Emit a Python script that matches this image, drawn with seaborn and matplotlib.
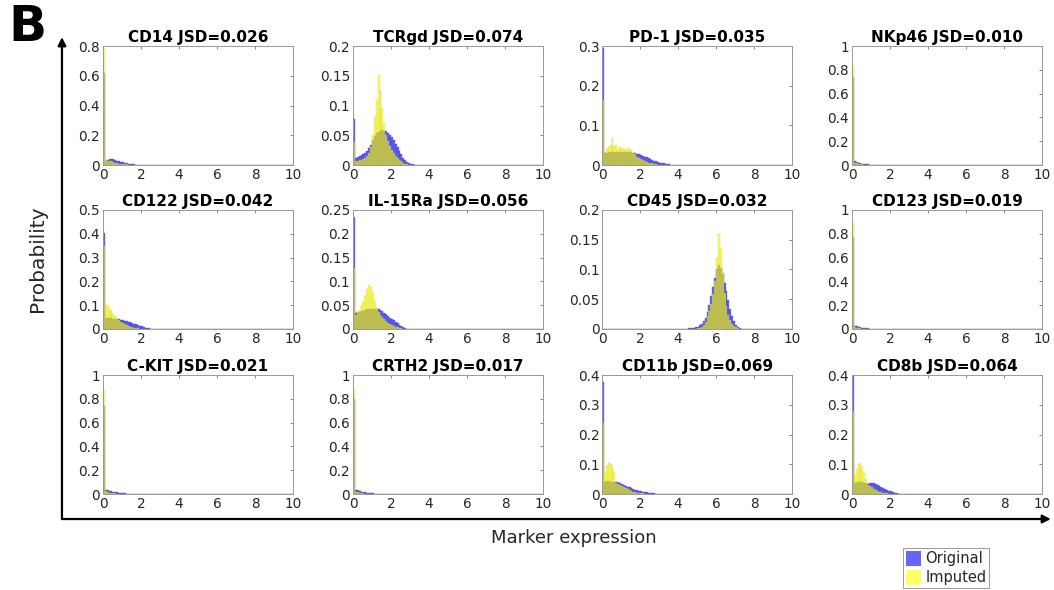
import numpy as np
import pandas as pd
import matplotlib
matplotlib.use("Agg")
import matplotlib.pyplot as plt
from matplotlib.patches import Patch
from matplotlib.ticker import FuncFormatter
import seaborn as sns

sns.set_theme(style="white")
plt.rcParams['font.family'] = ['DejaVu Sans']

# ---------------- data ----------------
markers = ["CD14", "TCRgd", "PD-1", "NKp46",
           "CD122", "IL-15Ra", "CD45", "CD123",
           "C-KIT", "CRTH2", "CD11b", "CD8b"]
jsd = ["0.026", "0.074", "0.035", "0.010",
       "0.042", "0.056", "0.032", "0.019",
       "0.021", "0.017", "0.069", "0.064"]
y_max = [0.8, 0.2, 0.3, 1.0,
         0.5, 0.25, 0.2, 1.0,
         1.0, 1.0, 0.4, 0.4]
y_step = [0.2, 0.05, 0.1, 0.2,
          0.1, 0.05, 0.05, 0.2,
          0.2, 0.2, 0.1, 0.1]
x_ticks = [0, 2, 4, 6, 8, 10]

# probability per bin (bin width 0.1, starting at 0)
cd14_orig = [0.62, 0.030, 0.035, 0.040, 0.042, 0.040, 0.035, 0.030, 0.026, 0.022, 0.018,
             0.015, 0.012, 0.009, 0.007, 0.005, 0.004, 0.003, 0.002, 0.001]
cd14_imp = [0.78, 0.035, 0.030, 0.028, 0.025, 0.020, 0.016, 0.012, 0.010, 0.008, 0.006,
            0.005, 0.004, 0.003, 0.002, 0.001]

tcrgd_orig = [0.077, 0.012, 0.014, 0.016, 0.017, 0.019, 0.021, 0.024, 0.028, 0.034, 0.042,
              0.048, 0.053, 0.056, 0.058, 0.059, 0.058, 0.057, 0.054, 0.051, 0.047, 0.042,
              0.036, 0.030, 0.024, 0.018, 0.012, 0.008, 0.005, 0.003, 0.002, 0.001]
tcrgd_imp = [0.038, 0.006, 0.007, 0.008, 0.009, 0.010, 0.012, 0.015, 0.020, 0.030, 0.050,
             0.080, 0.110, 0.152, 0.125, 0.095, 0.070, 0.050, 0.040, 0.032, 0.026, 0.021,
             0.016, 0.012, 0.009, 0.006, 0.004, 0.002, 0.001]

pd1_orig = [0.295, 0.030, 0.031, 0.032, 0.033, 0.033, 0.034, 0.034, 0.034, 0.034, 0.034,
            0.034, 0.034, 0.033, 0.033, 0.032, 0.031, 0.030, 0.028, 0.027, 0.025, 0.023,
            0.021, 0.019, 0.017, 0.015, 0.013, 0.011, 0.009, 0.008, 0.006, 0.005, 0.004,
            0.003, 0.002, 0.0015, 0.001, 0.0005]
pd1_imp = [0.165, 0.030, 0.040, 0.045, 0.050, 0.068, 0.045, 0.050, 0.040, 0.045, 0.040,
           0.042, 0.038, 0.042, 0.040, 0.035, 0.032, 0.028, 0.020, 0.017, 0.014, 0.012,
           0.010, 0.008, 0.006, 0.005, 0.004, 0.003, 0.002, 0.001]

nkp46_orig = [0.74, 0.030, 0.025, 0.020, 0.016, 0.012, 0.009, 0.007, 0.005, 0.004, 0.003,
              0.002, 0.002, 0.001, 0.001]
nkp46_imp = [0.83, 0.020, 0.014, 0.010, 0.007, 0.005, 0.004, 0.003, 0.002, 0.001]

cd122_orig = [0.405, 0.045, 0.046, 0.046, 0.045, 0.043, 0.042, 0.041, 0.040, 0.039, 0.037,
              0.035, 0.033, 0.031, 0.028, 0.026, 0.023, 0.020, 0.017, 0.014, 0.011, 0.008,
              0.006, 0.004, 0.003, 0.002, 0.001]
cd122_imp = [0.350, 0.100, 0.098, 0.085, 0.075, 0.065, 0.055, 0.045, 0.038, 0.030, 0.025,
             0.020, 0.016, 0.012, 0.009, 0.007, 0.005, 0.004, 0.003, 0.002, 0.001]

il15ra_orig = [0.235, 0.033, 0.035, 0.036, 0.037, 0.038, 0.040, 0.041, 0.042, 0.043, 0.043,
               0.043, 0.042, 0.041, 0.039, 0.037, 0.034, 0.031, 0.027, 0.024, 0.021, 0.018,
               0.015, 0.012, 0.009, 0.006, 0.004, 0.002, 0.001]
il15ra_imp = [0.128, 0.030, 0.035, 0.040, 0.048, 0.056, 0.070, 0.085, 0.092, 0.088, 0.075,
              0.058, 0.045, 0.035, 0.030, 0.025, 0.020, 0.016, 0.013, 0.010, 0.008, 0.006,
              0.005, 0.004, 0.003, 0.002, 0.001]

cd45_orig = [0.0] * 45 + [0.001, 0.001, 0.002, 0.002, 0.003, 0.004, 0.006, 0.009, 0.013,
                          0.019, 0.028, 0.040, 0.055, 0.070, 0.085, 0.100, 0.107, 0.103,
                          0.092, 0.078, 0.063, 0.048, 0.034, 0.022, 0.013, 0.007, 0.003,
                          0.001]
cd45_imp = [0.0] * 50 + [0.001, 0.002, 0.004, 0.007, 0.012, 0.020, 0.030, 0.042, 0.058,
                         0.080, 0.120, 0.160, 0.135, 0.095, 0.060, 0.038, 0.024, 0.015,
                         0.009, 0.005, 0.003, 0.001]

cd123_orig = [0.77, 0.025, 0.022, 0.018, 0.015, 0.012, 0.009, 0.007, 0.005, 0.004, 0.003,
              0.002, 0.001]
cd123_imp = [0.89, 0.020, 0.012, 0.008, 0.005, 0.003, 0.002, 0.001]

ckit_orig = [0.74, 0.030, 0.030, 0.028, 0.025, 0.020, 0.016, 0.013, 0.010, 0.008, 0.006,
             0.005, 0.004, 0.003, 0.002, 0.001]
ckit_imp = [0.87, 0.025, 0.018, 0.012, 0.009, 0.007, 0.005, 0.004, 0.003, 0.002, 0.001]

crth2_orig = [0.80, 0.035, 0.030, 0.025, 0.020, 0.016, 0.013, 0.010, 0.008, 0.006, 0.005,
              0.004, 0.003, 0.002, 0.001]
crth2_imp = [0.87, 0.020, 0.015, 0.010, 0.007, 0.005, 0.003, 0.002, 0.001]

cd11b_orig = [0.378, 0.042, 0.043, 0.043, 0.042, 0.041, 0.040, 0.040, 0.039, 0.037, 0.034,
              0.031, 0.028, 0.025, 0.022, 0.019, 0.017, 0.015, 0.013, 0.011, 0.009, 0.008,
              0.007, 0.006, 0.005, 0.004, 0.003, 0.002, 0.0015, 0.001, 0.0005]
cd11b_imp = [0.238, 0.070, 0.095, 0.105, 0.100, 0.090, 0.075, 0.038, 0.034, 0.030, 0.026,
             0.022, 0.019, 0.016, 0.013, 0.010, 0.008, 0.006, 0.005, 0.004, 0.003, 0.002,
             0.001]

cd8b_orig = [0.40, 0.038, 0.040, 0.041, 0.041, 0.040, 0.038, 0.036, 0.035, 0.036, 0.037,
             0.036, 0.034, 0.031, 0.026, 0.023, 0.020, 0.017, 0.014, 0.011, 0.009, 0.006,
             0.004, 0.002, 0.001]
cd8b_imp = [0.28, 0.060, 0.085, 0.100, 0.105, 0.090, 0.070, 0.050, 0.030, 0.028, 0.022,
            0.018, 0.014, 0.011, 0.008, 0.006, 0.004, 0.003, 0.002, 0.001]

original = [cd14_orig, tcrgd_orig, pd1_orig, nkp46_orig,
            cd122_orig, il15ra_orig, cd45_orig, cd123_orig,
            ckit_orig, crth2_orig, cd11b_orig, cd8b_orig]
imputed = [cd14_imp, tcrgd_imp, pd1_imp, nkp46_imp,
           cd122_imp, il15ra_imp, cd45_imp, cd123_imp,
           ckit_imp, crth2_imp, cd11b_imp, cd8b_imp]

# ---------------- figure ----------------
bin_edges = [round(0.1 * k, 1) for k in range(101)]
bin_centers = [round(0.1 * k + 0.05, 2) for k in range(100)]

fig = plt.figure(figsize=(10.54, 5.90), dpi=100)
lefts = [0.0977, 0.3349, 0.5712, 0.8083]
bottoms = [0.7203, 0.4424, 0.1627]
w, h = 0.1803, 0.2017

blue = (0.0, 0.0, 1.0)
yellow = (1.0, 1.0, 0.0)
fmt = FuncFormatter(lambda v, p: f"{v:g}")

for i, name in enumerate(markers):
    r, c = divmod(i, 4)
    ax = fig.add_axes([lefts[c], bottoms[r], w, h])
    o = original[i]
    m = imputed[i]
    sns.histplot(x=bin_centers[:len(o)], weights=o, bins=bin_edges, stat="count",
                 color=blue, alpha=0.6, edgecolor=(0.2, 0.2, 0.85), linewidth=0.2, ax=ax)
    sns.histplot(x=bin_centers[:len(m)], weights=m, bins=bin_edges, stat="count",
                 color=yellow, alpha=0.6, edgecolor=(0.75, 0.75, 0.2), linewidth=0.2, ax=ax)
    ax.set_xlim(0, 10)
    ax.set_ylim(0, y_max[i])
    ax.set_xticks(x_ticks)
    ax.set_yticks(np.arange(0, y_max[i] + 1e-9, y_step[i]))
    ax.yaxis.set_major_formatter(fmt)
    ax.set_xlabel("")
    ax.set_ylabel("")
    ax.set_title(f"{name} JSD={jsd[i]}", fontsize=11, fontweight="bold",
                 pad=3, color="black")
    for s in ax.spines.values():
        s.set_color("0.6")
        s.set_linewidth(0.7)
    ax.tick_params(axis="both", which="both", direction="in", length=2.5, width=0.6,
                   color="0.45", top=True, right=True, labelsize=9.8,
                   labelcolor="#262626", pad=2)

# axis arrows
ann_kw = dict(arrowprops=dict(arrowstyle="-|>", lw=1.6, color="black",
                              mutation_scale=12, shrinkA=0, shrinkB=0),
              xycoords="figure fraction", textcoords="figure fraction")
fig.axes[0].annotate("", xy=(0.0588, 0.937), xytext=(0.0588, 0.1203), **ann_kw)
fig.axes[0].annotate("", xy=(0.997, 0.1203), xytext=(0.0588, 0.1203), **ann_kw)

fig.text(0.544, 0.088, "Marker expression", ha="center", va="center",
         fontsize=13, color="#262626")
fig.text(0.036, 0.562, "Probability", ha="center", va="center", rotation=90,
         fontsize=14.5, color="#262626")
fig.text(0.008, 0.995, "B", ha="left", va="top", fontsize=36, fontweight="bold",
         color="black")

handles = [Patch(facecolor=(0.4, 0.4, 1.0), edgecolor="none", label="Original"),
           Patch(facecolor=(1.0, 1.0, 0.4), edgecolor="none", label="Imputed")]
leg = fig.legend(handles=handles, loc="lower left", bbox_to_anchor=(0.857, 0.003),
                 fontsize=10.5, frameon=True, fancybox=False, framealpha=1,
                 edgecolor="0.6", handlelength=1.0, handleheight=1.2,
                 handletextpad=0.3, borderpad=0.2, labelspacing=0.25,
                 borderaxespad=0)
leg.get_frame().set_linewidth(0.7)

fig.savefig("out.png", dpi=100)
